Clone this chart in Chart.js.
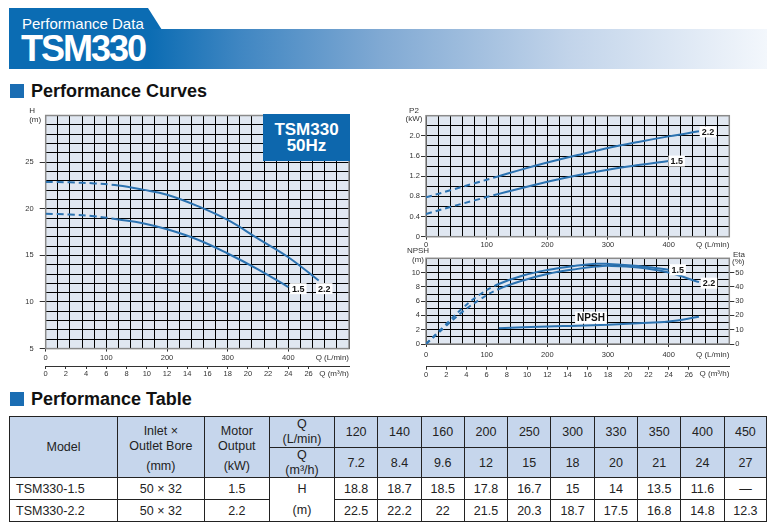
<!DOCTYPE html>
<html>
<head>
<meta charset="utf-8">
<script src="https://cdn.jsdelivr.net/npm/chart.js@4.4.1/dist/chart.umd.min.js"></script>
<style>
body { margin: 0; width: 776px; height: 531px; position: relative; overflow: hidden; background: #fff;
  font-family: "Liberation Sans", Arial, Helvetica, sans-serif; color: #222; }
.abs { position: absolute; }
#tab { left: 9px; top: 8px; width: 153px; height: 22px; background: #0b6cb3;
  clip-path: polygon(0 0, 139px 0, 153px 100%, 0 100%); }
#bar { left: 9px; top: 29px; width: 758px; height: 39.5px;
  background: linear-gradient(to right, #0b6cb3 0px, #0b6cb3 140px, #3f86c2 230px, #80a9d3 371px, #c2d4ea 560px, #f3f7fc 758px); }
#sub { left: 22px; top: 16px; font-size: 15px; line-height: 15px; color: #fff; }
#big { left: 21px; top: 31px; font-size: 36px; line-height: 36px; font-weight: bold; color: #fff; letter-spacing: -2px; }
.sq { width: 14px; height: 14px; background: #1a6db3; left: 10px; }
.h2 { left: 31px; font-size: 18px; line-height: 18px; font-weight: bold; color: #111; }
#badge { left: 263px; top: 114px; width: 87px; height: 47px; background: #0d67ad; color: #fff;
  font-weight: bold; font-size: 17px; line-height: 16px; text-align: center; display: flex;
  flex-direction: column; justify-content: center; }
canvas { position: absolute; }
#perf { position: absolute; left: 9px; top: 416px; width: 757.4px; border-collapse: collapse;
  table-layout: fixed; font-size: 12.5px; color: #222; }
#perf td { border: 1px solid #222; text-align: center; padding: 0; vertical-align: middle; white-space: nowrap; }
#perf tr.hd td { background: #c6d6ec; }
#perf td.model { text-align: left; padding-left: 6px; }
#perf td.tall { vertical-align: top; padding-top: 7px; line-height: 14.6px; }
#perf td.tall span { display: block; margin-top: 6px; }
</style>
</head>
<body>
<div id="tab" class="abs"></div>
<div id="bar" class="abs"></div>
<div id="sub" class="abs">Performance Data</div>
<div id="big" class="abs">TSM330</div>

<div class="abs sq" style="top:84px"></div>
<div class="abs h2" style="top:81.5px">Performance Curves</div>

<canvas id="headChart" width="362" height="280" style="left:0;top:105px"></canvas>
<div id="badge" class="abs"><div>TSM330</div><div>50Hz</div></div>
<canvas id="powerChart" width="381" height="155" style="left:395px;top:100px"></canvas>
<canvas id="effChart" width="381" height="140" style="left:395px;top:245px"></canvas>

<div class="abs sq" style="top:392px"></div>
<div class="abs h2" style="top:389.5px">Performance Table</div>
<table id="perf">
  <colgroup>
    <col style="width:108px"><col style="width:86.7px"><col style="width:65.3px"><col style="width:65px">
    <col style="width:43.3px"><col style="width:43.3px"><col style="width:43.3px"><col style="width:43.3px">
    <col style="width:43.3px"><col style="width:43.3px"><col style="width:43.3px"><col style="width:43.3px">
    <col style="width:43.3px"><col style="width:42.5px">
  </colgroup>
  <tbody id="perfBody"></tbody>
</table>

<script>
// table / duty points
const flowLmin = [120, 140, 160, 200, 250, 300, 330, 350, 400, 450];
const flowM3h = ['7.2', '8.4', '9.6', '12', '15', '18', '20', '21', '24', '27'];
const head15 = [18.8, 18.7, 18.5, 17.8, 16.7, 15, 14, 13.5, 11.6, null];
const head22 = [22.5, 22.2, 22, 21.5, 20.3, 18.7, 17.5, 16.8, 14.8, 12.3];
const models = ['TSM330-1.5', 'TSM330-2.2'];
const bores = ['50 × 32', '50 × 32'];
const motorKw = ['1.5', '2.2'];

// H curves (dashed below 120 L/min)
const curveFlow = [0, 40, 80, 120, 160, 200, 250, 300, 350, 400, 450];
const head15Curve = [19.45, 19.38, 19.2, 18.85, 18.45, 17.8, 16.7, 15.2, 13.5, 11.6, null];
const head22Curve = [22.88, 22.83, 22.72, 22.5, 22.05, 21.5, 20.3, 18.8, 16.8, 14.8, 12.3];

// shaft power P2 (kW)
const powerFlow = [0, 40, 80, 120, 160, 200, 250, 300, 350, 400, 450];
const power15 = [0.45, 0.59, 0.72, 0.85, 0.97, 1.09, 1.22, 1.33, 1.42, 1.5, null];
const power22 = [0.78, 0.92, 1.06, 1.2, 1.34, 1.47, 1.62, 1.76, 1.88, 1.99, 2.09];

// efficiency (%)
const etaFlow = [0, 30, 60, 90, 120, 160, 200, 250, 280, 300, 350, 400, 450];
const eta15 = [0, 12.5, 25, 35, 42, 48, 51.8, 55, 56.2, 56.1, 54.6, 52, null];
const eta22 = [0, 11.5, 22.5, 31.5, 38.5, 44.5, 49, 52.6, 54.2, 54.7, 53.6, 50, 43.3];

// NPSH required (m)
const npshFlow = [120, 200, 250, 300, 350, 400, 450];
const npshReq = [2.2, 2.45, 2.55, 2.7, 2.9, 3.15, 3.8];

const lineBlue = '#2b72b0';
const font = '"Liberation Sans", Arial, sans-serif';
const clear = 'rgba(0,0,0,0)';

function pts(xs, ys) {
  return xs.map((x, i) => ({x: x, y: ys[i]})).filter(p => p.y !== null);
}
const dashUpTo = (q, dash) => ctx => ctx.p1.parsed.x <= q ? dash : undefined;

function curve(data, label, offset, dash, axis) {
  return {
    data: data, endLabel: label, endOffset: offset, yAxisID: axis || 'y',
    borderColor: lineBlue, borderWidth: 2, pointRadius: 0,
    tension: 0.4,
    segment: dash ? {borderDash: dashUpTo(120, dash)} : undefined
  };
}

// background, frame, curve labels and axis notes
const plotStyle = {
  id: 'plotStyle',
  beforeDraw(chart) {
    const a = chart.chartArea, ctx = chart.ctx;
    ctx.save();
    ctx.fillStyle = '#e0e7f1';
    ctx.fillRect(a.left, a.top, a.right - a.left, a.bottom - a.top);
    ctx.restore();
  },
  beforeDatasetsDraw(chart) {
    const a = chart.chartArea, ctx = chart.ctx;
    ctx.save();
    ctx.strokeStyle = '#8a8a8a';
    ctx.lineWidth = 1.5;
    ctx.strokeRect(a.left, a.top, a.right - a.left, a.bottom - a.top);
    ctx.restore();
  },
  afterDatasetsDraw(chart, args, opts) {
    const a = chart.chartArea, ctx = chart.ctx;
    ctx.save();
    ctx.textAlign = 'center';
    ctx.textBaseline = 'middle';
    chart.data.datasets.forEach((ds, i) => {
      if (!ds.endLabel) return;
      const els = chart.getDatasetMeta(i).data;
      const p = els[ds.labelIndex !== undefined ? ds.labelIndex : els.length - 1];
      const x = p.x + ds.endOffset[0], y = p.y + ds.endOffset[1];
      ctx.font = 'bold ' + (ds.labelSize || 9) + 'px ' + font;
      const w = ctx.measureText(ds.endLabel).width + 4;
      const h = (ds.labelSize || 9) + 2;
      ctx.fillStyle = '#fff';
      ctx.fillRect(x - w / 2, y - h / 2, w, h);
      ctx.fillStyle = '#111';
      ctx.fillText(ds.endLabel, x, y + 0.5);
    });
    (opts.notes || []).forEach(n => {
      ctx.font = '8px ' + font;
      ctx.fillStyle = '#333';
      ctx.textAlign = n.align;
      const x = (n.side === 'right' ? a.right : a.left) + n.dx;
      const y = (n.edge === 'bottom' ? a.bottom : a.top) + n.dy;
      ctx.fillText(n.text, x, y);
    });
    ctx.restore();
  }
};

const tickFont = {size: 7.5, family: font};

function qAxis(h, pad) {
  return {
    type: 'linear', min: 0, max: 500, position: 'bottom',
    afterFit: s => { s.height = h; },
    border: {display: false},
    grid: {color: '#000', tickLength: 3,
      tickColor: c => c.tick && c.tick.value % 100 === 0 && c.tick.value < 500 ? '#333' : clear},
    ticks: {stepSize: 20, autoSkip: false, maxRotation: 0, minRotation: 0, padding: pad, color: '#333', font: tickFont,
      callback: v => v % 100 === 0 && v < 500 ? v : ''}
  };
}

function m3hAxis(h, pad) {
  return {
    type: 'linear', min: 0, max: 30, position: 'bottom',
    afterFit: s => { s.height = h; },
    border: {display: true, color: '#333', width: 1},
    grid: {drawOnChartArea: false, tickLength: 3, tickColor: c => c.tick && c.tick.value <= 26 ? '#333' : clear},
    ticks: {stepSize: 2, autoSkip: false, maxRotation: 0, minRotation: 0, padding: pad, color: '#333', font: tickFont,
      callback: v => v <= 26 ? v : ''}
  };
}

function valueAxis(min, max, step, width, tl, pad, shown, fmt, pos, onArea) {
  return {
    type: 'linear', min: min, max: max, position: pos || 'left',
    afterFit: s => { s.width = width; },
    border: {display: false},
    grid: {color: '#000', drawOnChartArea: onArea !== false, tickLength: tl,
      tickColor: c => c.tick && shown(c.tick.value) ? '#333' : clear},
    ticks: {stepSize: step, autoSkip: false, padding: pad, color: '#333', font: tickFont,
      callback: v => shown(v) ? fmt(v) : ''}
  };
}

const baseOptions = {
  responsive: false,
  animation: false,
  events: [],
  plugins: {legend: {display: false}, tooltip: {enabled: false}}
};

// H - Q
new Chart(document.getElementById('headChart'), {
  type: 'line',
  data: {datasets: [
    curve(pts(curveFlow, head15Curve), '1.5', [10, 1.6], [7, 4]),
    curve(pts(curveFlow, head22Curve), '2.2', [5.6, 8.1], [7, 4])
  ]},
  options: Object.assign({}, baseOptions, {
    layout: {padding: {left: 0, top: 10, right: 13, bottom: 5}},
    scales: {
      x: qAxis(17.4, 2),
      x2: m3hAxis(14, 0.5),
      y: valueAxis(5, 30, 1, 45.7, 6, 6, v => v % 5 === 0 && v < 30, v => v)
    },
    plugins: Object.assign({}, baseOptions.plugins, {plotStyle: {notes: [
      {text: 'H', side: 'left', edge: 'top', dx: -13.5, dy: -5, align: 'center'},
      {text: '(m)', side: 'left', edge: 'top', dx: -10.5, dy: 4, align: 'center'},
      {text: 'Q (L/min)', side: 'right', edge: 'bottom', dx: 0, dy: 9.4, align: 'right'},
      {text: 'Q (m³/h)', side: 'right', edge: 'bottom', dx: 0, dy: 25, align: 'right'}
    ]}})
  }),
  plugins: [plotStyle]
});

// P2 - Q
new Chart(document.getElementById('powerChart'), {
  type: 'line',
  data: {datasets: [
    curve(pts(powerFlow, power15), '1.5', [8, 0], [6, 4]),
    curve(pts(powerFlow, power22), '2.2', [9, 0.5], [6, 4])
  ]},
  options: Object.assign({}, baseOptions, {
    layout: {padding: {left: 0, top: 15.7, right: 46.7, bottom: 4.3}},
    scales: {
      x: qAxis(14, 1),
      y: valueAxis(0, 2.4, 0.2, 31, 5, 1, v => Math.round(v * 10) % 4 === 0 && v < 2.3, v => v === 0 ? '0' : v.toFixed(1))
    },
    plugins: Object.assign({}, baseOptions.plugins, {plotStyle: {notes: [
      {text: 'P2', side: 'left', edge: 'top', dx: -12, dy: -4.7, align: 'center'},
      {text: '(kW)', side: 'left', edge: 'top', dx: -12, dy: 2.6, align: 'center'},
      {text: 'Q (L/min)', side: 'right', edge: 'bottom', dx: 0, dy: 7.8, align: 'right'}
    ]}})
  }),
  plugins: [plotStyle]
});

// NPSH / Eta - Q
const npshCurve = curve(pts(npshFlow, npshReq), 'NPSH', [-17, -7], null);
npshCurve.labelIndex = 3;
npshCurve.labelSize = 10;
new Chart(document.getElementById('effChart'), {
  type: 'line',
  data: {datasets: [
    curve(pts(etaFlow, eta15), '1.5', [9, 0], [5, 4], 'y2'),
    curve(pts(etaFlow, eta22), '2.2', [10, 1], [5, 4], 'y2'),
    npshCurve
  ]},
  options: Object.assign({}, baseOptions, {
    layout: {padding: {left: 0, top: 13.3, right: 16.7, bottom: 4.3}},
    scales: {
      x: qAxis(22.7, 3.3),
      x2: m3hAxis(14, 0.5),
      y: valueAxis(0, 12, 1, 31, 5, 1, v => v % 2 === 0 && v < 12, v => v),
      y2: valueAxis(0, 60, 5, 30, 5, 1, v => v % 10 === 0 && v < 60, v => v, 'right', false)
    },
    plugins: Object.assign({}, baseOptions.plugins, {plotStyle: {notes: [
      {text: 'NPSH', side: 'left', edge: 'top', dx: -8, dy: -7.3, align: 'center'},
      {text: '(m)', side: 'left', edge: 'top', dx: -8, dy: 1.7, align: 'center'},
      {text: 'Eta', side: 'right', edge: 'top', dx: 9.7, dy: -3.3, align: 'center'},
      {text: '(%)', side: 'right', edge: 'top', dx: 9, dy: 3.4, align: 'center'},
      {text: 'Q (L/min)', side: 'right', edge: 'bottom', dx: 0, dy: 10.3, align: 'right'},
      {text: 'Q (m³/h)', side: 'right', edge: 'bottom', dx: 0, dy: 29.3, align: 'right'}
    ]}})
  }),
  plugins: [plotStyle]
});

// performance table
const body = document.getElementById('perfBody');
const cells = list => list.map(v => '<td>' + (v === null ? '—' : v) + '</td>').join('');
body.innerHTML =
  '<tr class="hd" style="height:30px">' +
    '<td rowspan="2">Model</td>' +
    '<td rowspan="2" class="tall">Inlet ×<br>Outlet Bore<span>(mm)</span></td>' +
    '<td rowspan="2" class="tall">Motor<br>Output<span>(kW)</span></td>' +
    '<td style="line-height:15px">Q<br>(L/min)</td>' + cells(flowLmin) + '</tr>' +
  '<tr class="hd" style="height:30px"><td style="line-height:14.5px">Q<br>(m³/h)</td>' + cells(flowM3h) + '</tr>' +
  '<tr style="height:22px"><td class="model">' + models[0] + '</td><td>' + bores[0] + '</td><td>' + motorKw[0] + '</td>' +
    '<td rowspan="2" style="line-height:21px">H<br>(m)</td>' + cells(head15) + '</tr>' +
  '<tr style="height:22px"><td class="model">' + models[1] + '</td><td>' + bores[1] + '</td><td>' + motorKw[1] + '</td>' +
    cells(head22) + '</tr>';
</script>
</body>
</html>
